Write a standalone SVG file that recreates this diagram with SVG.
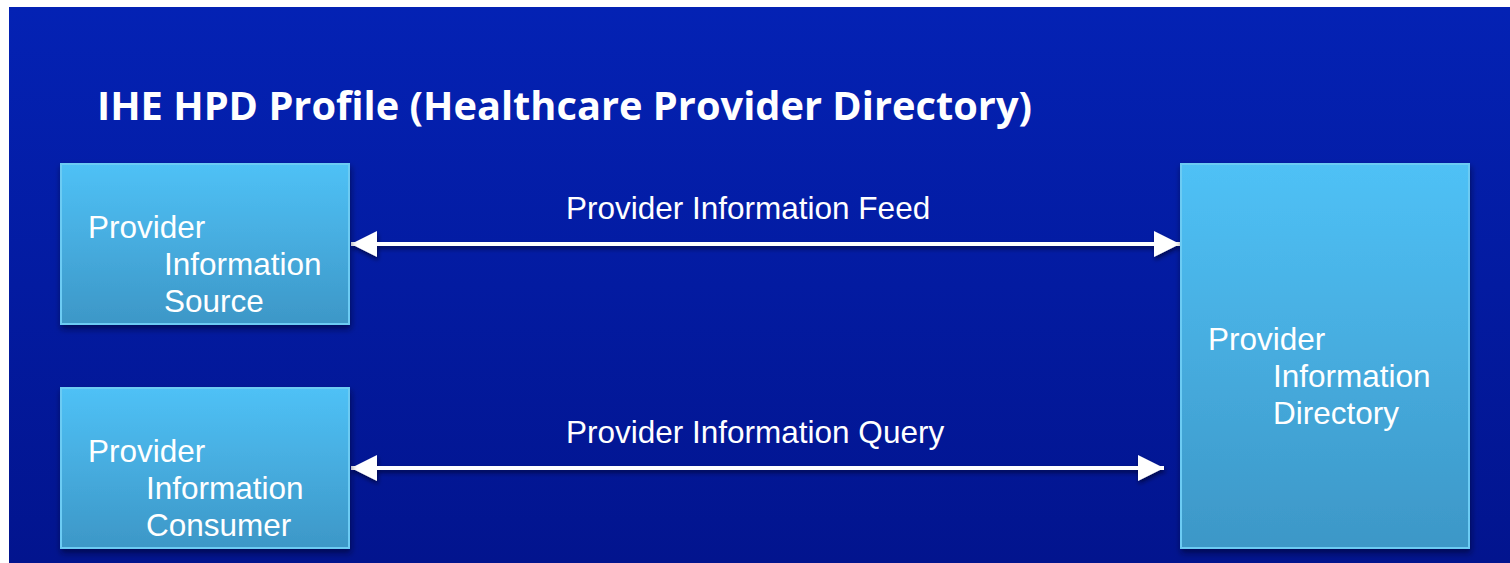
<svg xmlns="http://www.w3.org/2000/svg" width="1510" height="563" viewBox="0 0 1510 563">
  <defs>
    <linearGradient id="bg" x1="0" y1="0" x2="0" y2="1">
      <stop offset="0" stop-color="#0422B4"/>
      <stop offset="1" stop-color="#02148E"/>
    </linearGradient>
    <linearGradient id="boxfill" x1="0" y1="0" x2="0" y2="1">
      <stop offset="0" stop-color="#4FC1F6"/>
      <stop offset="1" stop-color="#3D97C7"/>
    </linearGradient>
    <filter id="shadow" x="-10%" y="-10%" width="120%" height="130%">
      <feDropShadow dx="1" dy="4" stdDeviation="3" flood-color="#000022" flood-opacity="0.55"/>
    </filter>
    <filter id="ashadow" x="-5%" y="-50%" width="110%" height="250%">
      <feDropShadow dx="1" dy="3" stdDeviation="2" flood-color="#000022" flood-opacity="0.6"/>
    </filter>
    <marker id="head" viewBox="0 0 26 26" refX="26" refY="13" markerWidth="26" markerHeight="26" markerUnits="userSpaceOnUse" orient="auto-start-reverse">
      <path d="M0,0 L26,13 L0,26 Z" fill="#FFFFFF"/>
    </marker>
  </defs>
  <style>
    .box { fill: url(#boxfill); stroke: #6CCBF3; stroke-width: 2; filter: url(#shadow); }
    .lbl { font-family: "Liberation Sans", Arial, sans-serif; font-size: 31.5px; fill: #FFFFFF; }
    .title { font-family: "Open Sans", "Liberation Sans", sans-serif; font-weight: 700; font-size: 40px; fill: #FFFFFF; }
    .conn { stroke: #FFFFFF; stroke-width: 4; fill: none; }
  </style>
  <rect x="0" y="0" width="1510" height="563" fill="#FFFFFF"/>
  <rect x="9" y="7" width="1501" height="556" fill="url(#bg)"/>
  <text class="title" x="97" y="120" textLength="935" lengthAdjust="spacingAndGlyphs">IHE HPD Profile (Healthcare Provider Directory)</text>

  <g id="connectors">
    <g filter="url(#ashadow)">
      <line class="conn" x1="351" y1="244" x2="1180" y2="244" marker-start="url(#head)" marker-end="url(#head)"/>
      <line class="conn" x1="351" y1="468" x2="1164" y2="468" marker-start="url(#head)" marker-end="url(#head)"/>
    </g>
    <text class="lbl" x="566" y="219">Provider Information Feed</text>
    <text class="lbl" x="566" y="443">Provider Information Query</text>
  </g>

  <g id="source">
    <rect class="box" x="61" y="164" width="288" height="160"/>
    <text class="lbl" x="88" y="238">Provider</text>
    <text class="lbl" x="164" y="275">Information</text>
    <text class="lbl" x="164" y="312">Source</text>
  </g>
  <g id="consumer">
    <rect class="box" x="61" y="388" width="288" height="160"/>
    <text class="lbl" x="88" y="462">Provider</text>
    <text class="lbl" x="146" y="499">Information</text>
    <text class="lbl" x="146" y="536">Consumer</text>
  </g>
  <g id="directory">
    <rect class="box" x="1181" y="164" width="288" height="384"/>
    <text class="lbl" x="1208" y="350">Provider</text>
    <text class="lbl" x="1273" y="387">Information</text>
    <text class="lbl" x="1273" y="424">Directory</text>
  </g>
</svg>
